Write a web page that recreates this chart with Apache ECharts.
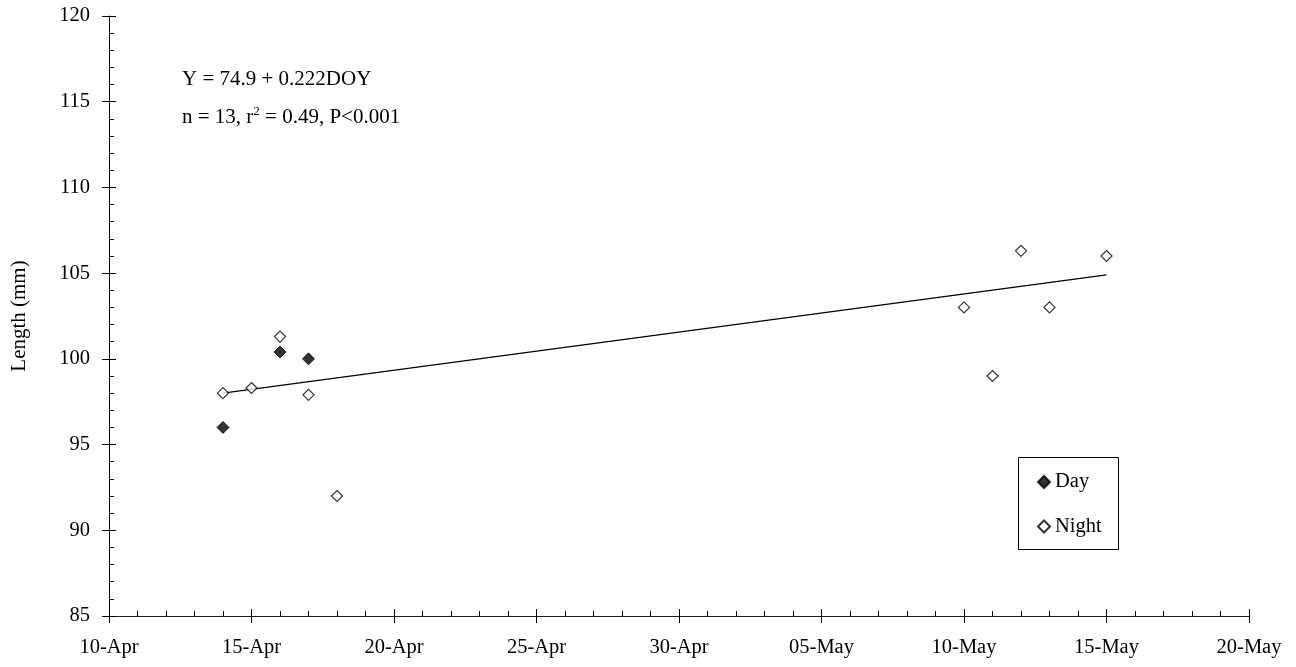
<!DOCTYPE html>
<html><head><meta charset="utf-8">
<script src="https://cdn.jsdelivr.net/npm/echarts@6/dist/echarts.min.js"></script>
<style>html,body{margin:0;padding:0;background:#fff}#c{width:1296px;height:667px}</style>
</head><body><div id="c"></div>
<script>
// ---- data ----
const dayDates = ['14-Apr', '16-Apr', '17-Apr'];
const dayLength = [96.0, 100.4, 100.0];
const nightDates = ['14-Apr', '15-Apr', '16-Apr', '17-Apr', '18-Apr', '10-May', '11-May', '12-May', '13-May', '15-May'];
const nightLength = [98.0, 98.3, 101.3, 97.9, 92.0, 103.0, 99.0, 106.3, 103.0, 106.0];
const trendDates = ['14-Apr', '15-May'];
const trendLength = [98.0, 104.9];
const xRange = ['10-Apr', '20-May'];
const xStepDays = 5;
const yRange = [85, 120];
const yStep = 5;
const seriesNames = ['Day', 'Night'];
const yTitle = 'Length (mm)';
const equationText = 'Y = 74.9 + 0.222DOY';
const statsParts = ['n = 13, r', '2', ' = 0.49, P<0.001'];

// ---- helpers ----
const monthStart = {Jan: 0, Feb: 31, Mar: 59, Apr: 90, May: 120, Jun: 151};
const monthOrder = ['Jan', 'Feb', 'Mar', 'Apr', 'May', 'Jun'];
function toDoy(s) { const [d, m] = s.split('-'); return monthStart[m] + parseInt(d, 10); }
function fromDoy(v) {
  let mon = 'Jan';
  for (const m of monthOrder) { if (v > monthStart[m]) mon = m; }
  const d = v - monthStart[mon];
  return (d < 10 ? '0' + d : '' + d) + '-' + mon;
}
const pairs = (xs, ys) => xs.map((x, i) => [toDoy(x), ys[i]]);

const FONT = 'Liberation Serif';
const chart = echarts.init(document.getElementById('c'));
const xMin = toDoy(xRange[0]), xMax = toDoy(xRange[1]);

const baseX = {type: 'value', min: xMin, max: xMax, interval: xStepDays, position: 'bottom', splitLine: {show: false}};
const baseY = {type: 'value', min: yRange[0], max: yRange[1], interval: yStep, position: 'left', splitLine: {show: false}};

chart.setOption({
  animation: false,
  backgroundColor: '#fff',
  grid: {left: 109, right: 47, top: 16, bottom: 51, containLabel: false},
  xAxis: [
    Object.assign({}, baseX, {
      axisLine: {show: true, lineStyle: {color: '#222', width: 1}},
      axisTick: {show: true, inside: true, length: 7, lineStyle: {color: '#000'}},
      minorTick: {show: true, splitNumber: 5, length: 5, lineStyle: {color: '#000'}},
      axisLabel: {margin: 21, color: '#000', fontFamily: FONT, fontSize: 20.5, formatter: v => fromDoy(v), showMinLabel: true, showMaxLabel: true}
    }),
    Object.assign({}, baseX, {
      axisLine: {show: false},
      axisTick: {show: true, inside: false, length: 7, lineStyle: {color: '#000'}},
      axisLabel: {show: false}
    })
  ],
  yAxis: [
    Object.assign({}, baseY, {
      name: yTitle, nameLocation: 'middle', nameGap: 79,
      nameTextStyle: {color: '#000', fontFamily: FONT, fontSize: 21},
      axisLine: {show: true, lineStyle: {color: '#000', width: 1}},
      axisTick: {show: true, inside: true, length: 7, lineStyle: {color: '#000'}},
      minorTick: {show: true, splitNumber: 5, length: 5, lineStyle: {color: '#000'}},
      axisLabel: {margin: 19, color: '#000', fontFamily: FONT, fontSize: 20.5}
    }),
    Object.assign({}, baseY, {
      axisLine: {show: false},
      axisTick: {show: true, inside: false, length: 7, lineStyle: {color: '#000'}},
      axisLabel: {show: false}
    })
  ],
  legend: {
    data: seriesNames,
    orient: 'vertical',
    left: 1037, top: 471.5,
    padding: 0,
    itemGap: 23.5,
    itemWidth: 12, itemHeight: 12,
    textStyle: {color: '#000', fontFamily: FONT, fontSize: 20.5},
    z: 10
  },
  graphic: [
    {type: 'rect', z: 5, shape: {x: 1018.5, y: 457.5, width: 100, height: 92}, style: {fill: 'transparent', stroke: '#000', lineWidth: 1}},
    {type: 'text', z: 5, style: {x: 182, y: 79, text: equationText, font: '21px "' + FONT + '"', fill: '#000', verticalAlign: 'middle', align: 'left'}},
    {type: 'text', z: 5, style: {
      x: 182, y: 117.5, align: 'left', verticalAlign: 'middle', fill: '#000',
      text: '{a|' + statsParts[0] + '}{s|' + statsParts[1] + '}{a|' + statsParts[2] + '}',
      rich: {
        a: {fontFamily: FONT, fontSize: 21, lineHeight: 24, fill: '#000'},
        s: {fontFamily: FONT, fontSize: 13, lineHeight: 16, verticalAlign: 'top', fill: '#000'}
      }
    }}
  ],
  series: [
    {
      name: 'trend', type: 'line', data: pairs(trendDates, trendLength),
      showSymbol: false, symbol: 'none', silent: true,
      lineStyle: {color: '#000', width: 1.2}, z: 1
    },
    {
      name: seriesNames[0], type: 'scatter', data: pairs(dayDates, dayLength),
      symbol: 'diamond', symbolSize: 12,
      itemStyle: {color: '#000', borderColor: '#000', borderWidth: 1}, z: 3
    },
    {
      name: seriesNames[1], type: 'scatter', data: pairs(nightDates, nightLength),
      symbol: 'diamond', symbolSize: 11,
      itemStyle: {color: '#fff', borderColor: '#000', borderWidth: 1.2}, z: 3
    }
  ]
});
</script>
</body></html>
